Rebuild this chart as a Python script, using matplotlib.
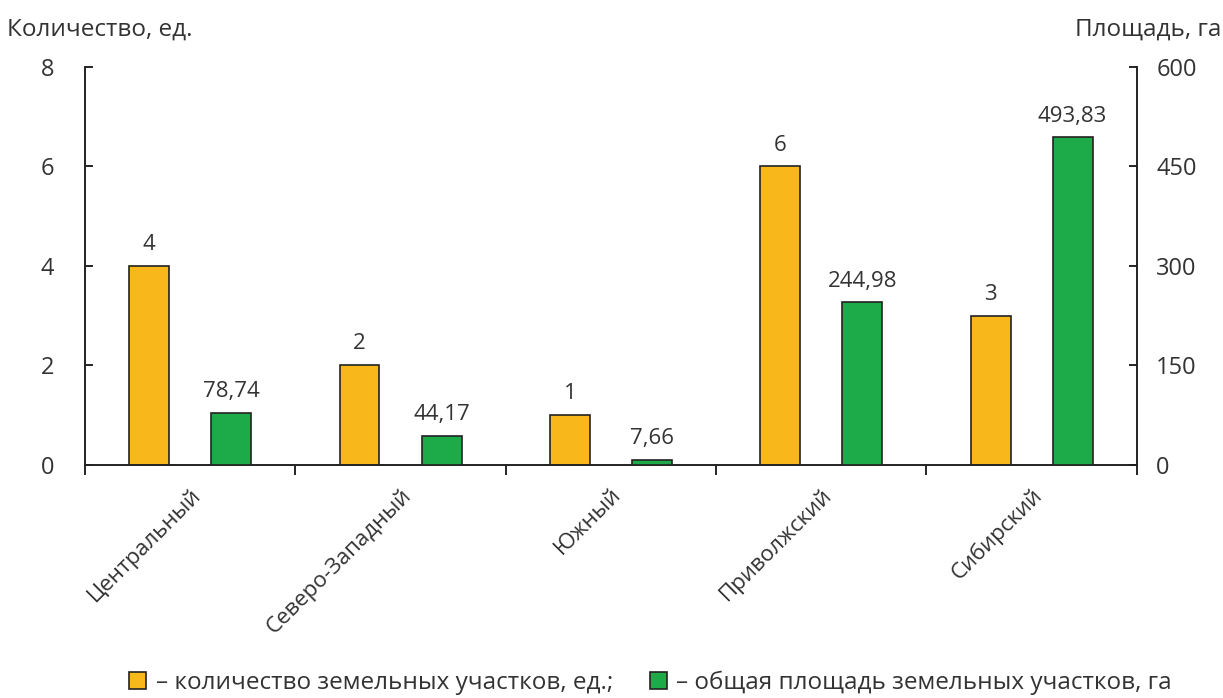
import numpy as np
import matplotlib.pyplot as plt

plt.rcParams['font.family'] = ['Open Sans', 'DejaVu Sans']

regions = ['Центральный', 'Северо-Западный', 'Южный', 'Приволжский', 'Сибирский']
counts = [4, 2, 1, 6, 3]
areas = [78.74, 44.17, 7.66, 244.98, 493.83]
area_labels = ['78,74', '44,17', '7,66', '244,98', '493,83']

orange = '#F8B81C'
green = '#1DAA48'
txt = '#333333'

fig = plt.figure(figsize=(12.23, 6.98), dpi=100)
ax = fig.add_axes([0.0695, 0.334, 0.860, 0.570])
ax2 = ax.twinx()

x = np.arange(len(regions))
w = 0.19
off = 0.195

b1 = ax.bar(x - off, counts, w, color=orange, edgecolor='#222222', linewidth=1.2, zorder=3)
b2 = ax2.bar(x + off, areas, w, color=green, edgecolor='#222222', linewidth=1.2, zorder=3)

for xi, c in zip(x, counts):
    ax.text(xi - off, c + 0.22, str(c), ha='center', va='bottom', fontsize=16, color=txt)
for xi, a, lab in zip(x, areas, area_labels):
    ax2.text(xi + off, a + 16, lab, ha='center', va='bottom', fontsize=16, color=txt)

ax.set_xlim(-0.5, len(regions) - 0.5)
ax.set_ylim(0, 8)
ax2.set_ylim(0, 600)
ax.set_yticks([0, 2, 4, 6, 8])
ax2.set_yticks([0, 150, 300, 450, 600])

ax.set_xticks(np.arange(len(regions) + 1) - 0.5)
ax.set_xticklabels([])
ax.set_xticks(x, minor=True)
ax.set_xticklabels(regions, minor=True, rotation=45, ha='right', va='top',
                   rotation_mode='anchor', fontsize=16, color=txt)
ax.tick_params(axis='x', which='minor', length=0, pad=14)
ax.tick_params(axis='x', which='major', length=7, direction='out', width=1.2)
ax.tick_params(axis='y', direction='in', length=6, width=1.2, labelsize=17, pad=22, labelcolor=txt)
ax2.tick_params(axis='y', direction='in', length=6, width=1.2, labelsize=17, pad=14, labelcolor=txt)

for a in (ax, ax2):
    a.spines['top'].set_visible(False)
    for s in ('left', 'right', 'bottom'):
        a.spines[s].set_linewidth(1.2)
        a.spines[s].set_color('#222222')

fig.text(0.006, 0.958, 'Количество, ед.', fontsize=17.5, color=txt, ha='left', va='center')
fig.text(0.879, 0.958, 'Площадь, га', fontsize=17.5, color=txt, ha='left', va='center')

fig.legend([b1, b2],
           ['– количество земельных участков, ед.;', '– общая площадь земельных участков, га'],
           loc='center', bbox_to_anchor=(0.532, 0.022), ncol=2, frameon=False,
           fontsize=17.5, handlelength=0.7, handleheight=0.7, handletextpad=0.4,
           columnspacing=1.5, labelcolor=txt)

fig.savefig('out.png', dpi=100)
